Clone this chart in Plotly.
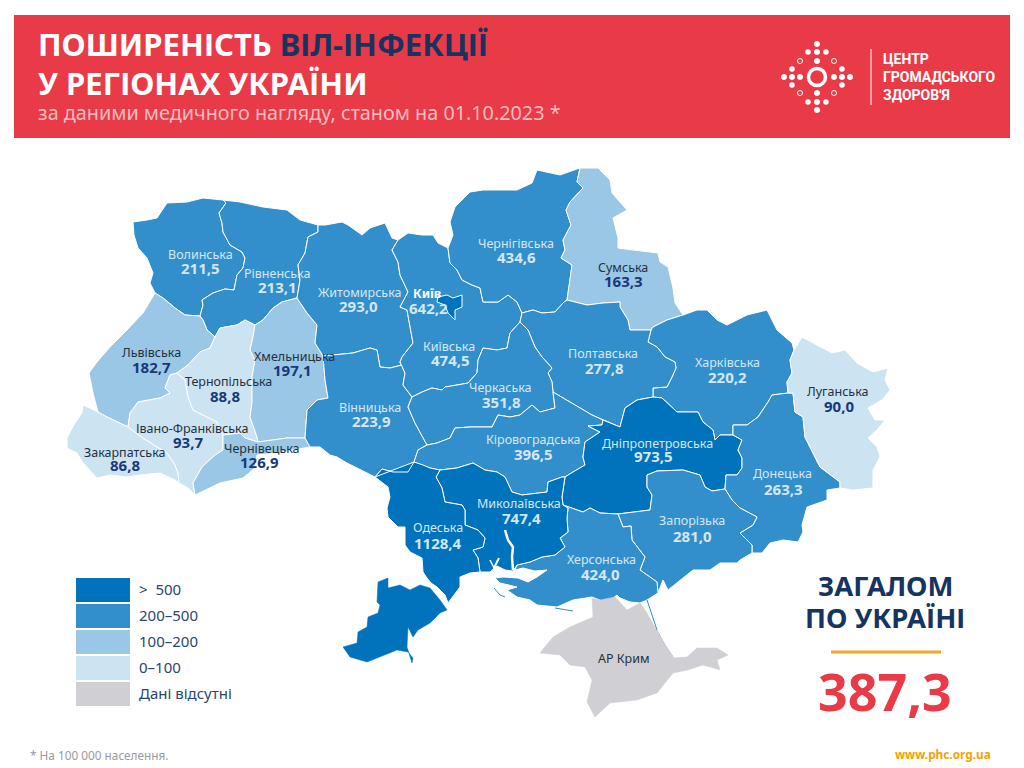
import plotly.graph_objects as go

# values per 100 000 population
regions = ["Волинська", "Рівненська", "Львівська", "Закарпатська", "Івано-Франківська", "Тернопільська",
           "Хмельницька", "Чернівецька", "Житомирська", "Вінницька", "Київська", "Чернігівська",
           "Сумська", "Харківська", "Полтавська", "Черкаська", "Кіровоградська", "Дніпропетровська",
           "Донецька", "Луганська", "Запорізька", "Херсонська", "Миколаївська", "Одеська", "Київ"]
values = [211.5, 213.1, 182.7, 86.8, 93.7, 88.8,
          197.1, 126.9, 293.0, 223.9, 474.5, 434.6,
          163.3, 220.2, 277.8, 351.8, 396.5, 973.5,
          263.3, 90.0, 281.0, 424.0, 747.4, 1128.4, 642.2]
total_value = "387,3"

legend_labels = [">  500", "200–500", "100–200", "0–100", "Дані відсутні"]
legend_colors = ["#0073bc", "#338fcb", "#99c7e5", "#cce3f2", "#cfcfd4"]
bin_edges = [500, 200, 100, 0]

# border pieces of the map (page pixels), shared between neighbouring regions
arcs = {
    "vol_top": [(223,200),(203,198),(187,202),(167,203),(157,218),(147,220),(133,222),(134,235),(138,248),(147,258),(153,273),(150,283),(155,293)],
    "vol_lviv": [(155,293),(163,298),(175,308),(185,315),(200,316)],
    "vol_riv": [(200,316),(203,305),(202,300),(213,293),(225,289),(234,290),(237,275),(243,268),(245,258),(242,252),(230,245),(223,232),(222,223),(219,213),(226,203),(223,200)],
    "riv_top": [(223,200),(240,202),(263,207),(287,210),(300,220),(318,225)],
    "riv_zhy": [(318,225),(318,232),(308,237),(305,253),(298,265),(300,280),(297,298)],
    "riv_khm": [(297,298),(282,302),(273,308),(263,320),(255,325)],
    "riv_ter": [(255,325),(245,320),(237,325),(220,328),(215,337)],
    "riv_lviv": [(215,337),(207,330),(203,320),(200,316)],
    "lviv_west": [(155,293),(143,313),(127,330),(110,347),(97,362),(89,373),(93,393),(98,412)],
    "lviv_zak": [(98,412),(107,417),(117,422),(128,427)],
    "lviv_if": [(128,427),(130,413),(138,402),(160,398),(170,393),(165,388),(170,375),(177,373)],
    "lviv_ter": [(177,373),(188,365),(200,352),(210,348),(215,337)],
    "zak_outer": [(98,412),(83,405),(82,413),(75,423),(67,438),(67,448),(77,453),(83,463),(97,478),(110,475),(127,477),(140,475),(160,473),(175,480),(179,483)],
    "zak_if": [(179,483),(178,473),(175,465),(167,453),(157,447),(143,438),(128,427)],
    "if_south": [(179,483),(188,488),(195,495)],
    "if_che": [(195,495),(193,483),(202,467),(215,455),(223,450),(223,435)],
    "if_ter": [(177,373),(185,380),(188,397),(193,410),(203,415),(217,422),(223,435)],
    "ter_che": [(223,435),(240,433),(245,438),(258,442)],
    "ter_khm": [(255,325),(253,337),(250,350),(255,360),(252,377),(252,403),(250,417),(257,437),(258,442)],
    "khm_che": [(258,442),(273,440),(287,438),(305,438)],
    "khm_vin": [(305,438),(307,410),(317,400),(328,398),(325,380),(323,356)],
    "khm_zhy": [(323,356),(315,343),(317,325),(307,313),(297,298)],
    "che_south": [(305,438),(310,447),(293,450),(277,453),(257,455),(255,468),(243,478),(220,483),(195,495)],
    "zhy_top": [(318,225),(325,225),(342,222),(348,225),(362,235),(370,228),(385,223),(392,238),(398,240)],
    "zhy_kyi": [(398,240),(392,250),(398,262),(400,275),(408,292),(400,307),(407,310),(410,327),(413,343),(402,357),(400,362)],
    "zhy_vin": [(400,362),(402,365),(390,368),(380,367),(377,350),(370,348),(353,353),(333,355),(323,356)],
    "vin_kyi": [(400,362),(405,373),(403,385),(412,397)],
    "vin_che": [(412,397),(408,407),(415,423),(427,445)],
    "vin_kir": [(427,445),(418,450),(414,462)],
    "vin_ode": [(414,462),(408,472),(393,472),(382,469),(375,477)],
    "vin_south": [(375,477),(357,468),(347,463),(337,457),(330,455),(320,447),(310,447),(305,438)],
    "kyi_top": [(398,240),(408,233),(422,235),(433,235),(438,243),(448,248)],
    "kyi_chn": [(448,248),(450,263),(457,270),(462,280),(472,285),(480,288),(483,302),(498,302),(508,295),(517,302),(522,313)],
    "kyi_pol": [(522,313),(520,322)],
    "kyi_chk": [(520,322),(510,333),(507,348),(497,350),(483,348),(478,360),(477,373),(468,383),(457,385),(445,387),(442,390),(432,388),(422,392),(412,397)],
    "chn_outer": [(448,248),(453,235),(450,222),(455,207),(470,192),(483,190),(517,190),(532,183),(537,170),(560,175),(580,168)],
    "chn_sum": [(580,168),(577,182),(583,188),(570,202),(566,210),(571,225),(563,240),(565,250),(561,258),(572,265),(570,280),(567,300)],
    "chn_pol": [(567,300),(563,303),(555,312),(542,313),(533,310),(522,313)],
    "sum_outer": [(580,168),(598,168),(610,180),(612,193),(627,210),(613,218),(618,238),(618,248),(633,250),(658,253),(660,262),(668,267),(673,288),(675,303),(683,315)],
    "sum_kha": [(683,315),(667,320),(653,327),(651,330)],
    "sum_pol": [(651,330),(630,330),(628,320),(620,307),(620,302),(603,303),(587,305),(567,300)],
    "kha_top": [(683,315),(697,310),(707,310),(717,320),(727,325),(747,315),(767,310),(777,330),(792,343),(794,350)],
    "kha_luh": [(794,350),(790,360),(792,373),(787,382),(788,393)],
    "kha_don": [(788,393),(772,395),(768,402),(758,417),(747,425),(733,425),(733,435)],
    "kha_dni": [(733,435),(720,435),(715,440),(713,430),(703,422),(698,412),(677,412),(662,398),(653,397)],
    "kha_pol": [(653,397),(653,388),(667,387),(672,377),(676,368),(675,362),(665,357),(657,347),(648,342),(651,330)],
    "pol_dni": [(653,397),(637,400),(625,408),(620,427),(603,420)],
    "pol_kir": [(603,420),(592,415),(575,405),(553,392)],
    "pol_chk": [(553,392),(552,382),(548,373),(552,368),(542,357),(535,347),(528,330),(520,322)],
    "chk_kir": [(553,392),(555,408),(540,412),(532,405),(520,415),(510,417),(498,415),(492,427),(470,427),(455,428),(450,438),(437,443),(427,445)],
    "kir_ode": [(414,462),(423,465),(430,468),(440,470)],
    "kir_myk": [(440,470),(457,468),(473,463),(485,470),(497,472),(505,477),(512,492),(522,495),(547,492),(548,482),(562,477),(565,477)],
    "kir_dni": [(565,477),(573,472),(585,465),(583,457),(585,442),(600,432),(588,426),(602,425),(603,420)],
    "dni_myk": [(565,477),(562,497),(563,505)],
    "dni_khe": [(563,505),(583,512),(590,508),(600,513),(618,514)],
    "dni_zap": [(618,514),(650,510),(652,495),(647,487),(647,475),(657,471),(683,470),(700,475),(705,487),(712,491),(725,489)],
    "dni_don": [(725,489),(726,475),(737,475),(742,468),(742,458),(738,450),(742,440),(733,435)],
    "don_luh": [(788,393),(793,393),(795,412),(803,417),(805,437),(813,453),(820,467),(840,482),(840,488)],
    "don_coast": [(840,488),(827,490),(827,500),(807,507),(802,525),(803,532),(798,542),(783,540),(770,543),(762,553),(752,553)],
    "zap_don": [(725,489),(732,500),(740,508),(757,517),(753,525),(740,533),(752,545),(752,553)],
    "luh_outer": [(794,350),(802,337),(813,343),(832,353),(845,350),(857,363),(873,372),(888,368),(885,380),(890,390),(882,400),(868,408),(875,420),(885,420),(877,430),(868,438),(877,447),(880,457),(873,470),(873,488),(853,490),(840,488)],
    "zap_coast": [(752,553),(740,560),(737,563),(720,563),(710,570),(693,570),(680,580),(668,590),(663,580),(658,593)],
    "zap_khe": [(658,593),(657,582),(640,570),(645,557),(632,540),(631,526),(623,527),(618,514)],
    "khe_coast": [(658,593),(647,600),(640,603),(630,602),(620,598),(617,595),(607,603),(592,597),(573,600),(557,607),(537,605),(530,600),(517,597),(507,590),(517,587),(500,583),(495,578),(503,577),(518,578),(528,582),(537,577),(547,570),(535,571),(523,568),(515,570),(517,565)],
    "myk_khe": [(517,565),(530,562),(542,557),(555,555),(565,547),(560,538),(568,532),(567,518),(568,508),(563,505)],
    "myk_coast": [(517,565),(513,571),(505,570),(497,566),(490,572),(480,572)],
    "ode_myk": [(440,470),(436,477),(442,488),(445,502),(462,505),(465,510),(465,525),(478,530),(485,538),(483,547),(473,550),(478,558),(480,572)],
    "ode_north": [(375,477),(388,487),(390,497),(387,508),(388,517),(398,527),(405,527),(405,545),(410,552),(422,558),(423,572),(427,578),(431,583),(437,587),(445,595),(448,603),(455,593),(460,587),(460,577),(470,573),(480,572)],
    "ode_south": [(430,588),(420,585),(410,590),(400,585),(388,588),(388,578),(378,582),(377,602),(380,605),(378,613),(368,617),(367,627),(358,632),(357,643),(343,647),(350,657),(367,662),(377,658),(397,650),(408,652),(413,658),(412,663),(407,647),(408,627),(413,637),(418,630),(430,623),(440,613),(447,610),(440,600),(433,592),(430,588)],
    "kyiv_city": [(437,302),(438,297),(447,295),(453,298),(462,295),(462,307),(455,310),(455,320),(448,313),(445,305),(437,302)],
    "crimea": [(592,598),(600,600),(615,597),(627,610),(640,603),(647,613),(658,633),(673,658),(687,657),(697,648),(717,648),(728,655),(717,660),(720,670),(703,665),(688,670),(673,673),(657,693),(637,700),(610,703),(595,717),(587,702),(592,680),(585,667),(570,665),(560,655),(540,653),(553,637),(570,627),(593,617),(592,598)],
}

# how each region is closed from the arcs, "-" runs an arc backwards
outlines = {
    "Волинська": ["vol_top", "vol_lviv", "vol_riv"],
    "Рівненська": ["riv_top", "riv_zhy", "riv_khm", "riv_ter", "riv_lviv", "vol_riv"],
    "Львівська": ["lviv_west", "lviv_zak", "lviv_if", "lviv_ter", "riv_lviv", "-vol_lviv"],
    "Закарпатська": ["zak_outer", "zak_if", "-lviv_zak"],
    "Івано-Франківська": ["if_south", "if_che", "-if_ter", "-lviv_if", "-zak_if"],
    "Тернопільська": ["if_ter", "ter_che", "-ter_khm", "riv_ter", "-lviv_ter"],
    "Хмельницька": ["khm_che", "khm_vin", "khm_zhy", "riv_khm", "ter_khm"],
    "Чернівецька": ["che_south", "if_che", "ter_che", "khm_che"],
    "Житомирська": ["zhy_top", "zhy_kyi", "zhy_vin", "khm_zhy", "-riv_zhy"],
    "Вінницька": ["-zhy_vin", "vin_kyi", "vin_che", "vin_kir", "vin_ode", "vin_south", "khm_vin"],
    "Київська": ["kyi_top", "kyi_chn", "kyi_pol", "kyi_chk", "-vin_kyi", "-zhy_kyi"],
    "Чернігівська": ["chn_outer", "chn_sum", "chn_pol", "-kyi_chn"],
    "Сумська": ["sum_outer", "sum_kha", "sum_pol", "-chn_sum"],
    "Харківська": ["kha_top", "kha_luh", "kha_don", "kha_dni", "kha_pol", "-sum_kha"],
    "Полтавська": ["-kha_pol", "pol_dni", "pol_kir", "pol_chk", "-kyi_pol", "-chn_pol", "-sum_pol"],
    "Черкаська": ["kyi_chk", "vin_che", "-chk_kir", "pol_chk"],
    "Кіровоградська": ["kir_ode", "kir_myk", "kir_dni", "pol_kir", "chk_kir", "vin_kir"],
    "Дніпропетровська": ["dni_myk", "dni_khe", "dni_zap", "dni_don", "kha_dni", "pol_dni", "-kir_dni"],
    "Донецька": ["kha_don", "-dni_don", "zap_don", "-don_coast", "-don_luh"],
    "Луганська": ["luh_outer", "-don_luh", "-kha_luh"],
    "Запорізька": ["dni_zap", "zap_don", "zap_coast", "zap_khe"],
    "Херсонська": ["dni_khe", "-zap_khe", "khe_coast", "myk_khe"],
    "Миколаївська": ["kir_myk", "dni_myk", "-myk_khe", "myk_coast", "-ode_myk"],
    "Одеська": ["-vin_ode", "ode_north", "-ode_myk", "-kir_ode"],
    "Київ": ["kyiv_city"],
}

# (name x, name y, value x, value y)
label_pos = {
    "Волинська": (200,254,200,268), "Рівненська": (277,273,277,287), "Львівська": (151,352,151,367),
    "Закарпатська": (125,452,125,465), "Івано-Франківська": (192,428,188,442), "Тернопільська": (228,381,225,396),
    "Хмельницька": (294,356,292,370), "Чернівецька": (262,448,259,462), "Житомирська": (359,292,358,306),
    "Вінницька": (370,407,371,421), "Київська": (449,346,450,360), "Чернігівська": (516,243,516,257),
    "Сумська": (623,267,623,281), "Харківська": (727,362,727,377), "Полтавська": (603,353,604,368),
    "Черкаська": (500,387,501,402), "Кіровоградська": (533,439,533,454), "Дніпропетровська": (657,443,653,456),
    "Донецька": (782,473,783,489), "Луганська": (838,391,839,406), "Запорізька": (692,520,692,536),
    "Херсонська": (601,559,600,574), "Миколаївська": (519,503,521,518), "Одеська": (438,527,438,543),
    "Київ": (427,293,428,308),
}

# logo dots as offsets from the ring centre, one quadrant, mirrored below
logo_dots = [(0,-33),(-9,-25),(0,-25),(0,-16),(-33,0),(-25,0),(-17,0),(-25,-8)]
logo_rings = [(-17,-16)]

NAVY = "#17335f"
RED = "#e83a47"
FONT = "Noto Sans"


def color_for(v):
    for edge, c in zip(bin_edges, legend_colors):
        if v > edge:
            return c
    return legend_colors[-1]


def ring(names):
    pts = []
    for n in names:
        pts += arcs[n[1:]][::-1] if n.startswith("-") else arcs[n]
    return [p[0] for p in pts], [p[1] for p in pts]


def text(x, y, s, size, color, anchor="center", bold=False, family=FONT):
    if bold:
        s = f"<b>{s}</b>"
    # annotations carry a small padding, pull edge-anchored text back onto its edge
    nudge = {"left": -2.5, "right": 2, "center": 0}[anchor]
    fig.add_annotation(x=x + nudge, y=y, text=s, showarrow=False, xanchor=anchor, yanchor="middle",
                       font=dict(family=family, size=size, color=color))


fig = go.Figure()

# header band
fig.add_shape(type="rect", x0=14, x1=1010, y0=15, y1=138, fillcolor=RED, line_width=0, layer="below")

for name, v in zip(regions, values):
    xs, ys = ring(outlines[name])
    fig.add_trace(go.Scatter(x=xs, y=ys, mode="lines", fill="toself", fillcolor=color_for(v),
                             line=dict(color="white", width=1), name=name, text=f"{name}: {v}", hoverinfo="text"))
    if name == "Одеська":
        xs2, ys2 = ring(["ode_south"])
        fig.add_trace(go.Scatter(x=xs2, y=ys2, mode="lines", fill="toself", fillcolor=color_for(v),
                                 line=dict(color=color_for(v), width=0.5), text=f"{name}: {v}", hoverinfo="text"))

xs, ys = ring(["crimea"])
fig.add_trace(go.Scatter(x=xs, y=ys, mode="lines", fill="toself", fillcolor=legend_colors[4],
                         line=dict(color=legend_colors[4], width=0.5), hoverinfo="skip"))

# rivers and spits
for px, py, c, w in [
    ([505,508,513,512,513], [530,540,547,557,570], "white", 2.5),
    ([490,494,493], [560,568,572], "white", 1.5),
    ([499,494], [558,568], "white", 2),
    ([494,500,505], [588,595,597], legend_colors[1], 1),
    ([555,565,573], [608,610,611], legend_colors[1], 1),
    ([647,652,657], [600,615,630], legend_colors[1], 1),
    ([657,665,674], [630,645,658], "#c4c4c9", 1),
]:
    fig.add_trace(go.Scatter(x=px, y=py, mode="lines", line=dict(color=c, width=w), hoverinfo="skip"))

# region labels
for name, v in zip(regions, values):
    nx, ny, vx, vy = label_pos[name]
    dark = v < 200
    name_col = "#26303f" if dark else "#d3e6f3"
    val_col = "#17397a" if dark else "#d3e6f3"
    if name == "Київ":
        text(nx, ny, name, 12.5, "white", bold=True)
    else:
        text(nx, ny, name, 12.5, name_col)
    text(vx, vy, f"{v:.1f}".replace(".", ","), 15, val_col, bold=True)
text(624, 658, "АР Крим", 12.5, "#26303f")

# legend
for i, (lab, c) in enumerate(zip(legend_labels, legend_colors)):
    top = 578 + i * 26
    fig.add_shape(type="rect", x0=76, x1=130, y0=top, y1=top + 24, fillcolor=c, line_width=0)
    text(139, top + 10.5, lab, 15, "#2b4570", anchor="left")

# header texts
text(38, 44, f"ПОШИРЕНІСТЬ <span style='color:{NAVY}'>ВІЛ-ІНФЕКЦІЇ</span>", 31, "white", anchor="left", bold=True)
text(38, 83, "У РЕГІОНАХ УКРАЇНИ", 31, "white", anchor="left", bold=True)
text(38, 112, "за даними медичного нагляду, станом на 01.10.2023 *", 19.8, "#f7bcc0", anchor="left")

# logo
cx, cy = 817, 77
dot_x, dot_y = [], []
for dx, dy in logo_dots:
    for sx, sy in [(1,1),(-1,1),(1,-1),(-1,-1)]:
        dot_x.append(cx + sx * dx)
        dot_y.append(cy + sy * dy)
fig.add_trace(go.Scatter(x=dot_x, y=dot_y, mode="markers", marker=dict(color="white", size=5.5), hoverinfo="skip"))
ring_x = [cx + sx * d[0] for d in logo_rings for sx in (1, -1, 1, -1)]
ring_y = [cy + sy * d[1] for d in logo_rings for sy in (1, 1, -1, -1)]
fig.add_trace(go.Scatter(x=ring_x, y=ring_y, mode="markers", hoverinfo="skip",
                         marker=dict(color="rgba(0,0,0,0)", size=5, line=dict(color="white", width=1))))
fig.add_trace(go.Scatter(x=[cx], y=[cy], mode="markers", hoverinfo="skip",
                         marker=dict(color="rgba(0,0,0,0)", size=17, line=dict(color="white", width=3.5))))
fig.add_shape(type="line", x0=871, x1=871, y0=49, y1=105, line=dict(color="white", width=1))
for y, s in zip([59, 77, 95], ["ЦЕНТР", "ГРОМАДСЬКОГО", "ЗДОРОВ'Я"]):
    text(883, y, s, 14, "white", anchor="left", bold=True, family="Roboto")

# total block
text(885, 585, "ЗАГАЛОМ", 27.5, NAVY, bold=True)
text(885, 617, "ПО УКРАЇНІ", 27.5, NAVY, bold=True)
fig.add_shape(type="line", x0=831, x1=941, y0=652, y1=652, line=dict(color="#f5a623", width=3))
text(885, 690, total_value, 52, RED, bold=True)

# footer
text(30, 755, "* На 100 000 населення.", 11.8, "#9a9a9f", anchor="left")
text(991, 754, "www.phc.org.ua", 11.8, "#f5a200", anchor="right", bold=True)

fig.update_layout(
    width=1024, height=768,
    margin=dict(l=0, r=0, t=0, b=0),
    paper_bgcolor="white", plot_bgcolor="white",
    showlegend=False,
    xaxis=dict(range=[0, 1024], visible=False, fixedrange=True),
    yaxis=dict(range=[768, 0], visible=False, fixedrange=True),
)

fig.write_html("out.html", config={"displayModeBar": False},
               post_script="document.body.style.margin='0';")
